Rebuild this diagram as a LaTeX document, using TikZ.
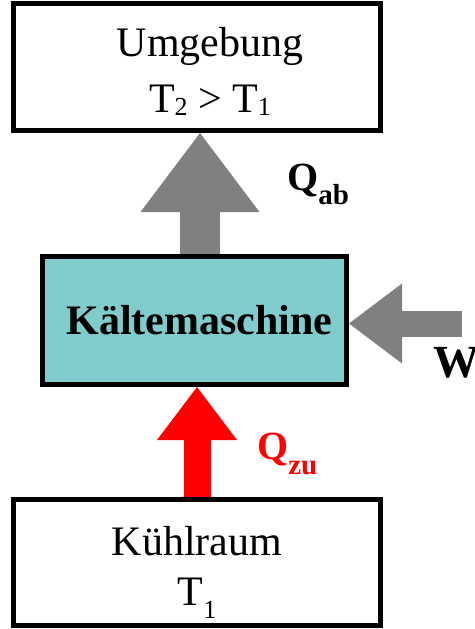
\documentclass[tikz,border=0pt]{standalone}
\usepackage{fontspec}
\setmainfont{Liberation Serif}
\usepackage{tikz}
\usetikzlibrary{arrows.meta, positioning, calc}
\definecolor{machinecyan}{RGB}{128,204,204}
\definecolor{flowgray}{RGB}{128,128,128}
\definecolor{heatred}{RGB}{255,0,0}
\newcommand{\subsz}{26}
\newcommand{\tsub}[2][4pt]{\raisebox{-#1}{\fontsize{\subsz}{\subsz}\selectfont #2}}

\begin{document}
\begin{tikzpicture}[x=1pt, y=-1pt,
    block/.style={rectangle, draw, line width=5pt, inner sep=0pt,
                  minimum width=367pt, minimum height=127pt, align=center,
                  font=\fontsize{42}{56}\selectfont},
    flow/.style={line width=#1},
    flowlabel/.style={inner sep=0pt, anchor=base west,
                      font=\fontsize{40}{40}\selectfont\bfseries\renewcommand{\subsz}{29}}]
\useasboundingbox (0,0) rectangle (474,629);

\node (umgebung) [block] at (197,67)
    {\hspace*{26pt}\rule{0pt}{38pt}Umgebung\\\hspace*{26pt}T\tsub[3pt]{2} > T\tsub[3pt]{1}};
\node (maschine) [block, fill=machinecyan, minimum width=304pt, minimum height=128pt,
                  font=\fontsize{42}{42}\selectfont\bfseries] at (194.5,320.5)
    {\hspace*{10pt}Kältemaschine};
\node (kuehlraum) [block, minimum height=126pt, font=\fontsize{42}{50}\selectfont]
    at (197,562.5) {\rule{0pt}{48pt}Kühlraum\\T\tsub[13pt]{1}};
\coordinate (wstart) at (462,323.5);

\draw [flow=40pt, flowgray, -{Triangle[length=79pt, width=119pt, line width=0pt]}]
    ([xshift=5.5pt]maschine.north) -- ([xshift=3pt]umgebung.south);
\draw [flow=27pt, heatred, -{Triangle[length=53pt, width=80pt, line width=0pt]}]
    (kuehlraum.north) -- ([xshift=2.5pt]maschine.south);
\draw [flow=26pt, flowgray, -{Triangle[length=53pt, width=80pt, line width=0pt]}]
    (wstart) -- ([yshift=-3pt]maschine.east);

\node (qab) [flowlabel] at (287,190) {Q\tsub[14pt]{ab}};
\node (qzu) [flowlabel, text=heatred] at (257,459) {Q\tsub[15pt]{zu}};
\node (w)   [flowlabel, font=\fontsize{46}{46}\selectfont\bfseries] at (433,377) {W};
\end{tikzpicture}
\end{document}
